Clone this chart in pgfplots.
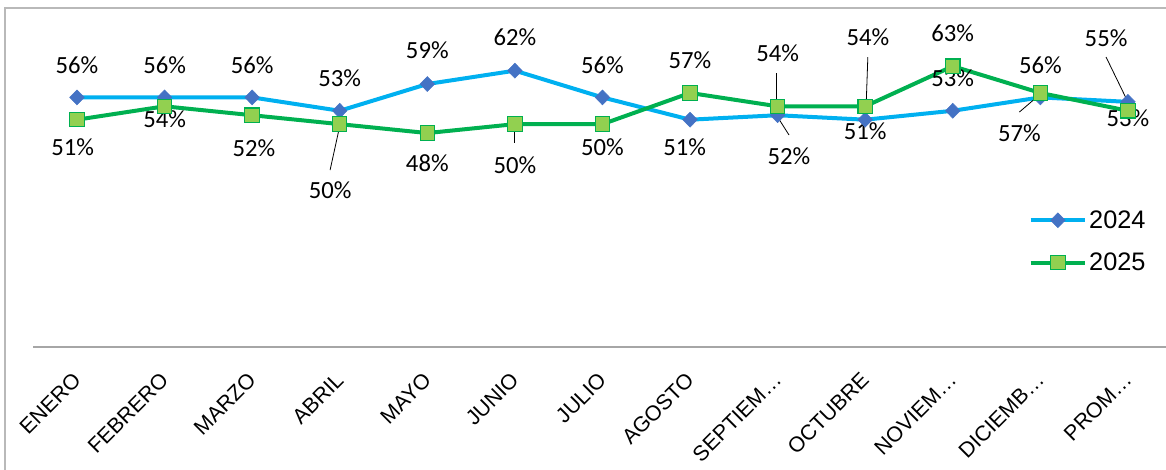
\documentclass[border=0pt]{standalone}
\usepackage{pgfplots}
\pgfplotsset{compat=1.18}
\usepackage{fontspec}
\setmainfont{Liberation Sans}
\newfontfamily\lblfont{Carlito}
\definecolor{cAline}{HTML}{00B0F0}
\definecolor{cAmark}{HTML}{4472C4}
\definecolor{cBline}{HTML}{00B050}
\definecolor{cBmark}{HTML}{92D050}
\begin{document}
\begin{tikzpicture}
\useasboundingbox (0,0) rectangle (874.5pt,352.5pt);
\draw[gray!55, line width=0.8pt] (3.75pt,0pt) -- (3.75pt,346.5pt) -- (880pt,346.5pt);
\begin{axis}[
  scale only axis, width=853.9pt, height=234pt,
  at={(24.9pt,92.25pt)}, anchor=south west,
  xmin=-0.5, xmax=12.5, ymin=0, ymax=70,
  axis y line=none, axis x line*=bottom,
  x axis line style={-, draw=gray!70, line width=1.1pt},
  xtick={0,...,12},
  xticklabels={ENERO,FEBRERO,MARZO,ABRIL,MAYO,JUNIO,JULIO,AGOSTO,SEPTIEM…,OCTUBRE,NOVIEM…,DICIEMB…,PROM…},
  major tick length=0pt,
  xticklabel style={rotate=45, anchor=east, font=\fontsize{16}{16}\selectfont, inner sep=0pt},
  xticklabel shift=22pt,
  clip=false,
  legend style={at={(0.874,0.445)}, anchor=north west, draw=none, fill=none,
    font=\fontsize{19}{19}\selectfont, row sep=14pt, inner sep=0pt,
    nodes={inner sep=1.5pt}},
  legend image code/.code={
    \draw[mark repeat=2,mark phase=2,#1] plot coordinates {(0pt,0pt) (20.5pt,0pt) (41pt,0pt)};
  },
  legend cell align=left,
]
\addplot[color=cAline, line width=3pt, mark=diamond*, mark size=5.6pt,
  mark options={fill=cAmark, draw=cAmark, line width=0.4pt, xscale=1.3}]
  coordinates {(0,56) (1,56) (2,56) (3,53) (4,59) (5,62) (6,56) (7,51) (8,52) (9,51) (10,53) (11,56) (12,55)};
\addlegendentry{2024}
\addplot[color=cBline, line width=3pt, mark=square*, mark size=5.4pt,
  mark options={fill=cBmark, draw=cBline, line width=0.8pt}]
  coordinates {(0,51) (1,54) (2,52) (3,50) (4,48) (5,50) (6,50) (7,57) (8,54) (9,54) (10,63) (11,57) (12,53)};
\addlegendentry{2025}
% leader lines
\draw[black, line width=0.6pt] (axis cs:3,49.57) -- (axis cs:2.89,39.7);
\draw[black, line width=0.6pt] (axis cs:5,49.57) -- (axis cs:5,45.76);
\draw[black, line width=0.6pt] (axis cs:7.99,61.46) -- (axis cs:7.99,53.84);
\draw[black, line width=0.6pt] (axis cs:8,51.59) -- (axis cs:8.13,47.56);
\draw[black, line width=0.6pt] (axis cs:9.03,65.05) -- (axis cs:9.01,53.84);
\draw[black, line width=0.6pt] (axis cs:10.76,52.71) -- (axis cs:11,56.75);
\draw[black, line width=0.6pt] (axis cs:11.75,65.05) -- (axis cs:12,54.96);
% 2024 labels
\begin{scope}[every node/.style={font=\lblfont\fontsize{18.5}{18.5}\selectfont, inner sep=0pt}]
\node at (axis cs:0,63.26) {56\%};
\node at (axis cs:1,63.26) {56\%};
\node at (axis cs:2,63.26) {56\%};
\node at (axis cs:3,60.34) {53\%};
\node at (axis cs:4,66.6) {59\%};
\node at (axis cs:5,69.5) {62\%};
\node at (axis cs:6,63.26) {56\%};
\node at (axis cs:6.94,44.86) {51\%};
\node at (axis cs:8.13,42.84) {52\%};
\node at (axis cs:9,48.45) {51\%};
\node at (axis cs:10,60.34) {53\%};
\node at (axis cs:11,63.26) {56\%};
\node at (axis cs:11.75,69.31) {55\%};
% 2025 labels
\node at (axis cs:-0.05,44.86) {51\%};
\node at (axis cs:1,51.14) {54\%};
\node at (axis cs:2.02,44.64) {52\%};
\node at (axis cs:2.89,35.22) {50\%};
\node at (axis cs:4,41.27) {48\%};
\node at (axis cs:5,40.83) {50\%};
\node at (axis cs:6,44.86) {50\%};
\node at (axis cs:7,64.38) {57\%};
\node at (axis cs:8,65.95) {54\%};
\node at (axis cs:9.03,69.54) {54\%};
\node at (axis cs:10,70.44) {63\%};
\node at (axis cs:10.76,48.0) {57\%};
\node at (axis cs:12,51.37) {53\%};
\end{scope}
\end{axis}
\end{tikzpicture}
\end{document}
